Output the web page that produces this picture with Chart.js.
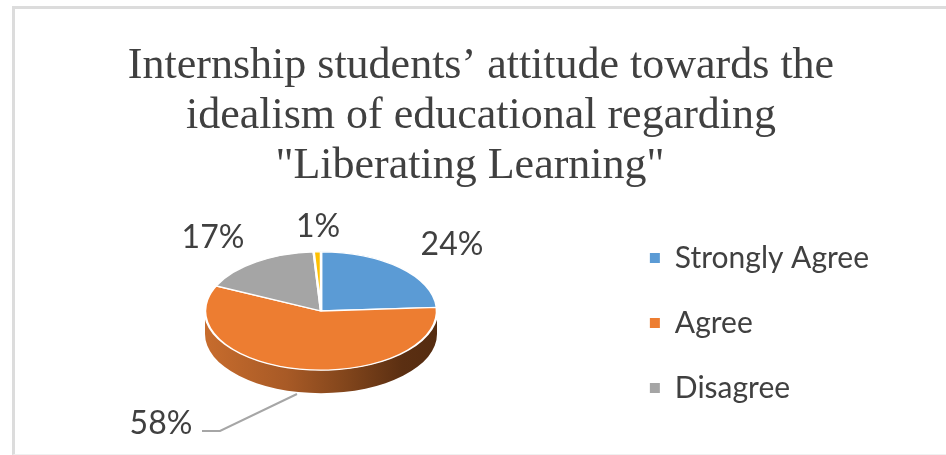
<!DOCTYPE html>
<html>
<head>
<meta charset="utf-8">
<script src="https://cdn.jsdelivr.net/npm/chart.js@4/dist/chart.umd.min.js"></script>
<style>
  html, body { margin: 0; background: #fff; }
  #frame { position: absolute; left: 12px; top: 6px; width: 950px; height: 445px; border: 3px solid #dcdcdc; border-bottom: 1px solid #f0f0f0; }
  #wrap { position: absolute; left: 0; top: 0; width: 946px; height: 455px; overflow: hidden; }
  canvas { position: absolute; left: 0; top: 0; }
</style>
</head>
<body>
<div id="wrap">
  <div id="frame"></div>
  <canvas id="chart" width="946" height="455"></canvas>
</div>
<script>
const titleLines = [
  'Internship students\u2019 attitude towards the',
  'idealism of educational regarding',
  '"Liberating Learning"  '
]
const categories = ['Strongly Agree', 'Agree', 'Disagree', 'Strongly Disagree']
const percentages = [24, 58, 17, 1]
const sliceColors = ['#5b9bd5', '#ed7d31', '#a5a5a5', '#ffc000']

// tilted pie: where it sits, how flat it is, how thick the rim is
const pieCenter = { x: 321, y: 311 }
const pieRadius = 116
const tilt = 0.51
const rimDepth = 23
const rimStops = [[0, '#c76c2d'], [0.35, '#a85a26'], [0.6, '#83461c'], [0.85, '#5b2f12'], [1, '#552c10']]

// label anchors relative to the pie centre, one per slice
const labelOffsets = [[131, -66], [-160, 113], [-108, -73], [-3, -84]]
const leaderOffsets = [[-119, 120], [-101, 120], [-24, 83]]
const textColor = '#404040'

const tiltedPie = {
  id: 'tiltedPie',
  beforeDatasetsDraw(chart) {
    const ctx = chart.ctx
    const { x, y } = pieCenter
    const grad = ctx.createLinearGradient(x - pieRadius, 0, x + pieRadius, 0)
    rimStops.forEach(s => grad.addColorStop(s[0], s[1]))
    // only the front half of the ellipse shows a rim
    chart.getDatasetMeta(0).data.forEach(arc => {
      const a0 = Math.max(arc.startAngle, 0)
      const a1 = Math.min(arc.endAngle, Math.PI)
      if (a1 <= a0) return
      ctx.beginPath()
      ctx.ellipse(x, y, pieRadius, pieRadius * tilt, 0, a0, a1)
      ctx.ellipse(x, y + rimDepth, pieRadius, pieRadius * tilt, 0, a1, a0, true)
      ctx.closePath()
      ctx.fillStyle = grad
      ctx.fill()
    })
  },
  beforeDatasetDraw(chart) {
    const ctx = chart.ctx
    const arc = chart.getDatasetMeta(0).data[0]
    ctx.save()
    ctx.translate(pieCenter.x, pieCenter.y)
    ctx.scale(1, tilt)
    ctx.translate(-arc.x, -arc.y)
  },
  afterDatasetDraw(chart) {
    chart.ctx.restore()
  },
  afterDatasetsDraw(chart) {
    const ctx = chart.ctx
    const { x, y } = pieCenter
    ctx.save()
    ctx.strokeStyle = '#a6a6a6'
    ctx.lineWidth = 2
    ctx.beginPath()
    leaderOffsets.forEach((p, i) => {
      if (i === 0) ctx.moveTo(x + p[0], y + p[1])
      else ctx.lineTo(x + p[0], y + p[1])
    })
    ctx.stroke()
    ctx.fillStyle = textColor
    ctx.font = '32px Lato'
    ctx.textAlign = 'center'
    ctx.textBaseline = 'middle'
    percentages.forEach((v, i) => {
      ctx.fillText(v + '%', x + labelOffsets[i][0], y + labelOffsets[i][1])
    })
    ctx.restore()
  }
}

const pieLegendLabels = Chart.overrides.pie.plugins.legend.labels.generateLabels

new Chart(document.getElementById('chart'), {
  type: 'pie',
  data: {
    labels: categories,
    datasets: [{
      data: percentages,
      backgroundColor: sliceColors,
      borderColor: '#ffffff',
      borderWidth: 2.5,
      radius: pieRadius,
      clip: false
    }]
  },
  options: {
    responsive: false,
    animation: false,
    layout: { padding: { left: 83, right: 67, top: 0, bottom: 6 } },
    plugins: {
      title: {
        display: true,
        text: titleLines,
        color: textColor,
        font: { family: '"Liberation Serif"', size: 44, weight: 'normal', lineHeight: 1.136 },
        padding: { top: 41, bottom: 6 }
      },
      legend: {
        position: 'right',
        fullSize: false,
        labels: {
          boxWidth: 10,
          boxHeight: 10,
          padding: 35,
          color: textColor,
          font: { family: 'Lato', size: 30 },
          // solid squares, without the slice border
          generateLabels: chart => pieLegendLabels(chart).map(item => ({ ...item, lineWidth: 0 })),
          filter: item => item.index < 3
        }
      },
      tooltip: { enabled: false }
    }
  },
  plugins: [tiltedPie]
})
</script>
</body>
</html>
